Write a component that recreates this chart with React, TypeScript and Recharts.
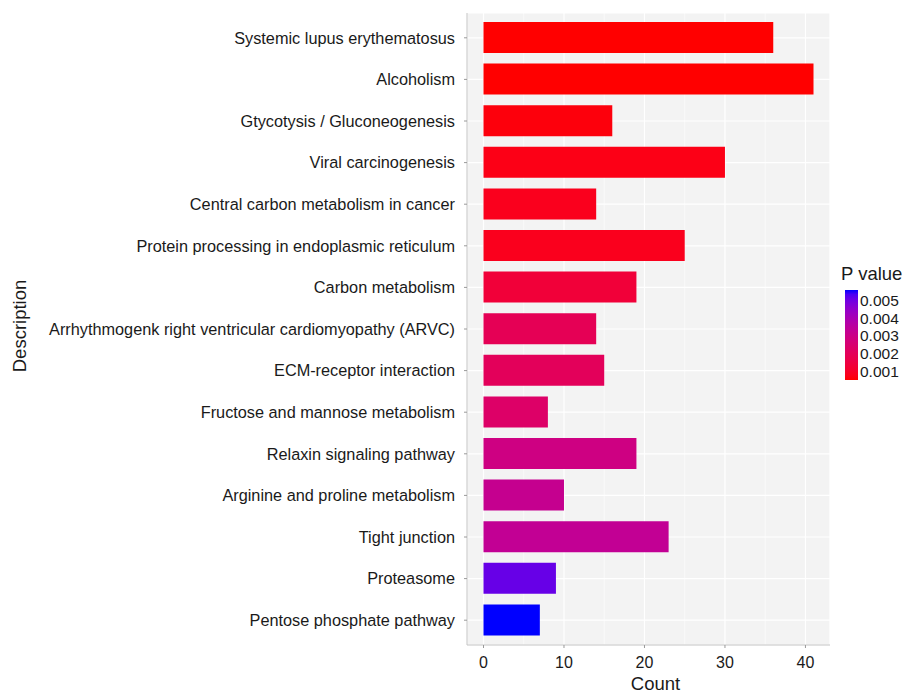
import { Bar, BarChart, CartesianGrid, Cell, XAxis, YAxis } from 'recharts'

const categories = [
  'Systemic lupus erythematosus',
  'Alcoholism',
  'Gtycotysis / Gluconeogenesis',
  'Viral carcinogenesis',
  'Central carbon metabolism in cancer',
  'Protein processing in endoplasmic reticulum',
  'Carbon metabolism',
  'Arrhythmogenk right ventricular cardiomyopathy (ARVC)',
  'ECM-receptor interaction',
  'Fructose and mannose metabolism',
  'Relaxin signaling pathway',
  'Arginine and proline metabolism',
  'Tight junction',
  'Proteasome',
  'Pentose phosphate pathway',
]
const counts = [36, 41, 16, 30, 14, 25, 19, 14, 15, 8, 19, 10, 23, 9, 7]
const pValues = [
  0.0005, 0.0005, 0.0006, 0.0007, 0.0008, 0.0008, 0.0013, 0.0019, 0.002, 0.0023, 0.0029, 0.0032,
  0.0033, 0.0051, 0.0056,
]
const xTicks = [0, 10, 20, 30, 40]
const xMinorTicks = [5, 15, 25, 35]
const legendTicks = [0.005, 0.004, 0.003, 0.002, 0.001]

const FONT = '"Liberation Sans", Arial, Helvetica, sans-serif'
const TEXT = '#1a1a1a'
const X_DOMAIN: [number, number] = [-2.05, 43.05]

// ggplot-like gradient: red -> blue interpolated in CIELAB
type Lab = [number, number, number]
const toLin = (c: number) => {
  const v = c / 255
  return v <= 0.04045 ? v / 12.92 : Math.pow((v + 0.055) / 1.055, 2.4)
}
const fromLin = (v: number) => {
  const c = v <= 0.0031308 ? 12.92 * v : 1.055 * Math.pow(v, 1 / 2.4) - 0.055
  return Math.round(Math.min(1, Math.max(0, c)) * 255)
}
function rgbToLab(r: number, g: number, b: number): Lab {
  const R = toLin(r), G = toLin(g), B = toLin(b)
  const X = (0.4124 * R + 0.3576 * G + 0.1805 * B) / 0.95047
  const Y = 0.2126 * R + 0.7152 * G + 0.0722 * B
  const Z = (0.0193 * R + 0.1192 * G + 0.9505 * B) / 1.08883
  const f = (t: number) => (t > 0.008856 ? Math.cbrt(t) : 7.787 * t + 16 / 116)
  return [116 * f(Y) - 16, 500 * (f(X) - f(Y)), 200 * (f(Y) - f(Z))]
}
function labToHex([L, a, b]: Lab): string {
  const fy = (L + 16) / 116
  const fx = fy + a / 500
  const fz = fy - b / 200
  const inv = (t: number) => (t * t * t > 0.008856 ? t * t * t : (t - 16 / 116) / 7.787)
  const X = 0.95047 * inv(fx), Y = inv(fy), Z = 1.08883 * inv(fz)
  const R = 3.2406 * X - 1.5372 * Y - 0.4986 * Z
  const G = -0.9689 * X + 1.8758 * Y + 0.0415 * Z
  const B = 0.0557 * X - 0.204 * Y + 1.057 * Z
  return '#' + [R, G, B].map((v) => fromLin(v).toString(16).padStart(2, '0')).join('')
}
const LOW = rgbToLab(255, 0, 0)
const HIGH = rgbToLab(0, 0, 255)
const pMin = Math.min(...pValues)
const pMax = Math.max(...pValues)
function colorFor(p: number): string {
  const t = (p - pMin) / (pMax - pMin)
  return labToHex([0, 1, 2].map((i) => LOW[i] + (HIGH[i] - LOW[i]) * t) as Lab)
}

const data = categories.map((name, i) => ({ name, count: counts[i], p: pValues[i] }))

function PLegend() {
  const top = 290
  const h = 90
  const x = 845
  const w = 13
  const yFor = (p: number) => top + ((pMax - p) / (pMax - pMin)) * h
  const stops = Array.from({ length: 21 }, (_, i) => i / 20)
  return (
    <svg width={904} height={694} style={{ position: 'absolute', left: 0, top: 0, pointerEvents: 'none' }}>
      <defs>
        <linearGradient id="pgrad" x1="0" y1="1" x2="0" y2="0">
          {stops.map((s) => (
            <stop key={s} offset={s} stopColor={colorFor(pMin + s * (pMax - pMin))} />
          ))}
        </linearGradient>
      </defs>
      <text x={841} y={280} fontSize={18.5} fontFamily={FONT} fill={TEXT}>
        P value
      </text>
      <rect x={x} y={top} width={w} height={h} fill="url(#pgrad)" />
      {legendTicks.map((p) => (
        <text key={p} x={860} y={yFor(p) + 5.5} fontSize={15.5} fontFamily={FONT} fill={TEXT}>
          {p.toFixed(3)}
        </text>
      ))}
    </svg>
  )
}

export default function App() {
  return (
    <div style={{ position: 'fixed', left: 0, top: 0, width: 904, height: 694, background: '#fff' }}>
      <BarChart
        width={904}
        height={694}
        data={data}
        layout="vertical"
        margin={{ top: 13, right: 74, bottom: 0, left: 0 }}
        style={{ fontFamily: FONT }}
      >
        <CartesianGrid fill="#f3f3f3" stroke="#ffffff" strokeWidth={1.2} />
        <CartesianGrid xAxisId="minor" horizontal={false} stroke="#ffffff" strokeWidth={0.6} />
        <XAxis
          type="number"
          dataKey="count"
          domain={X_DOMAIN}
          ticks={xTicks}
          allowDataOverflow
          height={49}
          tickSize={3}
          tickMargin={9}
          tick={{ fontSize: 16, fill: TEXT }}
          tickLine={{ stroke: '#9a9a9a' }}
          axisLine={{ stroke: '#c4c4c4' }}
          label={{
            content: ({ viewBox }: any) => (
              <text
                x={viewBox.x + viewBox.width / 2 + 7}
                y={viewBox.y + viewBox.height - 4}
                textAnchor="middle"
                fontSize={18.5}
                fontFamily={FONT}
                fill={TEXT}
              >
                Count
              </text>
            ),
          }}
        />
        <XAxis
          xAxisId="minor"
          type="number"
          domain={X_DOMAIN}
          ticks={xMinorTicks}
          allowDataOverflow
          hide
        />
        <XAxis xAxisId="top" orientation="top" type="number" height={0} tick={false} tickLine={false} axisLine={{ stroke: '#c4c4c4' }} />
        <YAxis
          type="category"
          dataKey="name"
          width={467}
          padding={{ top: 4, bottom: 4 }}
          interval={0}
          tickSize={3}
          tickMargin={9}
          tick={{ fontSize: 16.3, fill: TEXT }}
          tickLine={{ stroke: '#9a9a9a' }}
          axisLine={{ stroke: '#c4c4c4' }}
          label={{
            content: ({ viewBox }: any) => {
              const cx = viewBox.x + 19
              const cy = viewBox.y + viewBox.height / 2 - 3
              return (
                <text
                  x={cx}
                  y={cy}
                  transform={`rotate(-90, ${cx}, ${cy})`}
                  textAnchor="middle"
                  dominantBaseline="central"
                  fontSize={18.5}
                  fontFamily={FONT}
                  fill={TEXT}
                >
                  Description
                </text>
              )
            },
          }}
        />
        <YAxis
          yAxisId="right"
          orientation="right"
          type="category"
          dataKey="name"
          width={0}
          tick={false}
          tickLine={false}
          axisLine={{ stroke: '#c4c4c4' }}
        />
        <Bar dataKey="count" barSize={31} isAnimationActive={false}>
          {data.map((d) => (
            <Cell key={d.name} fill={colorFor(d.p)} />
          ))}
        </Bar>
      </BarChart>
      <PLegend />
    </div>
  )
}
